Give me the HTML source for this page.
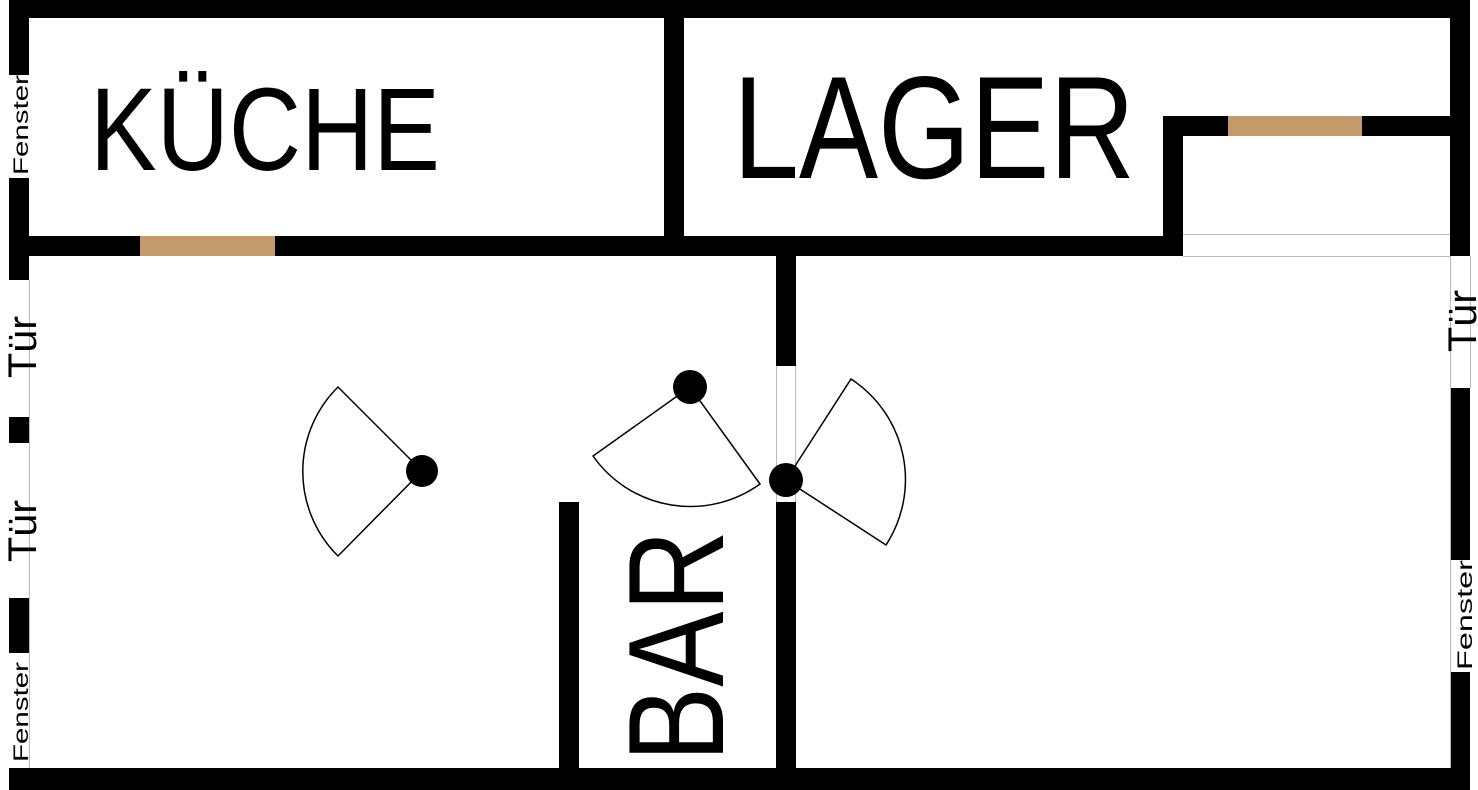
<!DOCTYPE html>
<html><head><meta charset="utf-8"><style>
html,body{margin:0;padding:0;background:#fff;width:1478px;height:790px;overflow:hidden}
svg{display:block}
text{font-family:"Liberation Sans",sans-serif;fill:#000}
</style></head><body>
<svg width="1478" height="790" viewBox="0 0 1478 790" xmlns="http://www.w3.org/2000/svg">
<!-- outer walls -->
<rect x="9" y="0" width="1461" height="18" fill="#000"/>
<rect x="9" y="768" width="1461" height="22" fill="#000"/>
<!-- left wall segments -->
<rect x="9" y="0" width="20" height="75" fill="#000"/>
<rect x="9" y="178" width="20" height="102" fill="#000"/>
<rect x="9" y="417" width="20" height="26" fill="#000"/>
<rect x="9" y="598" width="20" height="55" fill="#000"/>
<line x1="29.5" y1="280" x2="29.5" y2="768" stroke="#bbb" stroke-width="1"/>
<!-- right wall segments -->
<rect x="1450" y="0" width="20" height="256" fill="#000"/>
<rect x="1450" y="388" width="20" height="172" fill="#000"/>
<rect x="1450" y="672" width="20" height="118" fill="#000"/>
<line x1="1450.5" y1="256" x2="1450.5" y2="768" stroke="#bbb" stroke-width="1"/>
<line x1="1470.5" y1="256" x2="1470.5" y2="388" stroke="#bbb" stroke-width="1"/>
<!-- kitchen bottom wall -->
<rect x="29" y="236" width="1154" height="20" fill="#000"/>
<rect x="140" y="236" width="135" height="20" fill="#c49a6c"/>
<!-- kitchen/lager divider -->
<rect x="664" y="18" width="20" height="218" fill="#000"/>
<!-- lager inner box -->
<rect x="1163" y="116" width="287" height="20" fill="#000"/>
<rect x="1228" y="116" width="134" height="20" fill="#c49a6c"/>
<rect x="1163" y="116" width="20" height="140" fill="#000"/>
<line x1="1183" y1="234.5" x2="1450" y2="234.5" stroke="#bbb" stroke-width="1"/>
<line x1="1183" y1="256.5" x2="1450" y2="256.5" stroke="#bbb" stroke-width="1"/>
<!-- middle wall -->
<rect x="776" y="256" width="20" height="110" fill="#000"/>
<rect x="776" y="502" width="20" height="266" fill="#000"/>
<line x1="776.5" y1="366" x2="776.5" y2="502" stroke="#bbb" stroke-width="1"/>
<line x1="795.5" y1="366" x2="795.5" y2="502" stroke="#bbb" stroke-width="1"/>
<!-- bar wall -->
<rect x="559" y="502" width="20" height="266" fill="#000"/>
<!-- doors -->
<path d="M422 471 L338 387 A119 119 0 0 0 338 556 Z" fill="#fff" stroke="#000" stroke-width="1.5"/>
<circle cx="422" cy="471" r="16" fill="#000"/>
<path d="M690 387 L593 456 A119 119 0 0 0 760 484 Z" fill="#fff" stroke="#000" stroke-width="1.5"/>
<circle cx="690" cy="387" r="17" fill="#000"/>
<path d="M786 480 L851 379 A120 120 0 0 1 886 545 Z" fill="#fff" stroke="#000" stroke-width="1.5"/>
<circle cx="786" cy="480" r="17" fill="#000"/>
<!-- labels -->
<text x="90" y="170" font-size="118" textLength="350" lengthAdjust="spacingAndGlyphs">KÜCHE</text>
<text x="733" y="178" font-size="146" textLength="402" lengthAdjust="spacingAndGlyphs">LAGER</text>
<text transform="translate(723,762) rotate(-90)" font-size="136" textLength="232" lengthAdjust="spacingAndGlyphs">BAR</text>
<text transform="translate(28,175) rotate(-90)" font-size="21" textLength="100" lengthAdjust="spacingAndGlyphs">Fenster</text>
<text transform="translate(28,762) rotate(-90)" font-size="21" textLength="100" lengthAdjust="spacingAndGlyphs">Fenster</text>
<text transform="translate(1472,670) rotate(-90)" font-size="21" textLength="110" lengthAdjust="spacingAndGlyphs">Fenster</text>
<text transform="translate(36,378) rotate(-90)" font-size="40" textLength="62" lengthAdjust="spacingAndGlyphs">Tür</text>
<text transform="translate(36,562) rotate(-90)" font-size="40" textLength="62" lengthAdjust="spacingAndGlyphs">Tür</text>
<text transform="translate(1476,352) rotate(-90)" font-size="40" textLength="62" lengthAdjust="spacingAndGlyphs">Tür</text>
</svg>
</body></html>
